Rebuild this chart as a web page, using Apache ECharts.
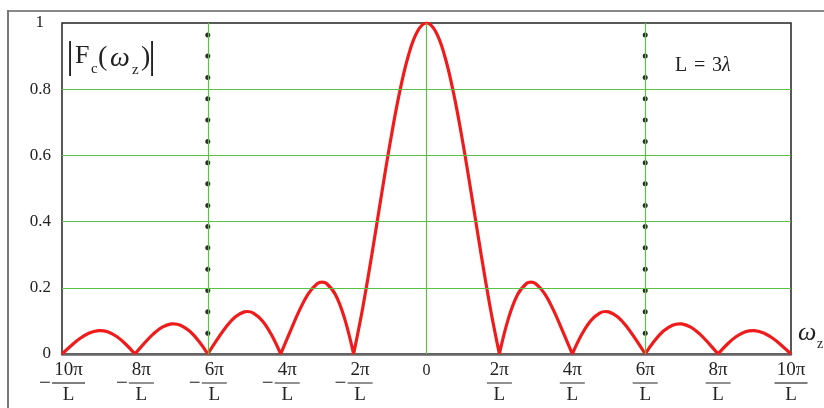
<!DOCTYPE html>
<html>
<head>
<meta charset="utf-8">
<script src="https://cdn.jsdelivr.net/npm/echarts@6/dist/echarts.min.js"></script>
<style>
  html, body { margin: 0; padding: 0; background: #ffffff; }
  #chart { width: 824px; height: 408px; }
</style>
</head>
<body>
<div id="chart"></div>
<script>
// x positions in units of pi/L
const xValues = [
  -10, -9.75, -9.5, -9.25, -9, -8.955, -8.75, -8.5, -8.25,
  -8, -7.75, -7.5, -7.25, -7, -6.942, -6.75, -6.5, -6.25,
  -6, -5.75, -5.5, -5.25, -5, -4.918, -4.75, -4.5, -4.25,
  -4, -3.75, -3.5, -3.25, -3, -2.861, -2.75, -2.5, -2.25,
  -2, -1.75, -1.5, -1.25, -1, -0.75, -0.5, -0.25,
  0, 0.25, 0.5, 0.75, 1, 1.25, 1.5, 1.75,
  2, 2.25, 2.5, 2.75, 2.861, 3, 3.25, 3.5, 3.75,
  4, 4.25, 4.5, 4.75, 4.918, 5, 5.25, 5.5, 5.75,
  6, 6.25, 6.5, 6.75, 6.942, 7, 7.25, 7.5, 7.75,
  8, 8.25, 8.5, 8.75, 8.955, 9, 9.25, 9.5, 9.75, 10
];
// |Fc(wz)|
const magnitude = [
  0, 0.0250, 0.0474, 0.0636, 0.0707, 0.0709, 0.0672, 0.0530, 0.0295,
  0, 0.0314, 0.0600, 0.0811, 0.0909, 0.0913, 0.0871, 0.0693, 0.0390,
  0, 0.0424, 0.0818, 0.1120, 0.1273, 0.1284, 0.1238, 0.1000, 0.0573,
  0, 0.0650, 0.1286, 0.1810, 0.2122, 0.2172, 0.2139, 0.1801, 0.1083,
  0, 0.1392, 0.3001, 0.4705, 0.6366, 0.7842, 0.9003, 0.9745,
  1, 0.9745, 0.9003, 0.7842, 0.6366, 0.4705, 0.3001, 0.1392,
  0, 0.1083, 0.1801, 0.2139, 0.2172, 0.2122, 0.1810, 0.1286, 0.0650,
  0, 0.0573, 0.1000, 0.1238, 0.1284, 0.1273, 0.1120, 0.0818, 0.0424,
  0, 0.0390, 0.0693, 0.0871, 0.0913, 0.0909, 0.0811, 0.0600, 0.0314,
  0, 0.0295, 0.0530, 0.0672, 0.0709, 0.0707, 0.0636, 0.0474, 0.0250, 0
];
// dotted markers on the +-6pi/L lines
const dotX = [-6, 6];
const dotValues = [0.063, 0.128, 0.192, 0.256, 0.321, 0.385, 0.449, 0.514, 0.578, 0.642, 0.707, 0.771, 0.835, 0.900, 0.964];
const xTicks = [-10, -8, -6, -4, -2, 0, 2, 4, 6, 8, 10];
const yTicks = [0, 0.2, 0.4, 0.6, 0.8, 1];
const gridX = [-6, 0, 6];
const gridY = [0.2, 0.4, 0.6, 0.8];

// build curve, breaking at each zero so the cusps stay sharp
const curve = [];
for (let i = 0; i < xValues.length; i++) {
  curve.push([xValues[i], magnitude[i]]);
  if (magnitude[i] === 0 && i > 0 && i < xValues.length - 1) {
    curve.push([xValues[i], '-']);
    curve.push([xValues[i], magnitude[i]]);
  }
}
const dots = [];
dotX.forEach(x => dotValues.forEach(v => dots.push([x, v])));

const SERIF = '"Liberation Serif", "DejaVu Serif", serif';
const chart = echarts.init(document.getElementById('chart'));

function txt(text, x, y, size, opts) {
  opts = opts || {};
  return {
    type: 'text', x: x, y: y, silent: true, z: 100,
    style: {
      text: text,
      font: (opts.italic ? 'italic ' : '') + size + 'px ' + SERIF,
      fill: '#222',
      align: opts.align || 'left',
      verticalAlign: 'middle'
    }
  };
}

chart.setOption({
  animation: false,
  backgroundColor: '#ffffff',
  grid: {
    left: 62, right: 33, top: 23, bottom: 54,
    show: true, borderColor: '#222', borderWidth: 1.5, backgroundColor: 'transparent'
  },
  xAxis: {
    type: 'value', min: -10, max: 10, interval: 2,
    axisLine: { show: true, onZero: false, lineStyle: { color: '#666', width: 2.5 } },
    axisTick: { show: false },
    splitLine: { show: false },
    axisLabel: {
      show: true, margin: 6, showMinLabel: true, showMaxLabel: true, hideOverlap: false,
      color: '#222', fontFamily: SERIF,
      formatter: function (v) {
        if (xTicks.indexOf(v) < 0) return '';
        if (v === 0) return '{z|0}';
        const n = Math.abs(v);
        const bar = n >= 10 ? 'bw' : 'b';
        if (v < 0) {
          return '{sp| }{n|' + n + 'π}\n{m|−}{' + bar + '| }\n{sp| }{d|L}';
        }
        return '{n|' + n + 'π}\n{' + bar + '| }\n{d|L}';
      },
      rich: {
        z: { fontSize: 16, lineHeight: 22, fontFamily: SERIF, color: '#222' },
        n: { fontSize: 19, lineHeight: 20, fontFamily: SERIF, color: '#222' },
        d: { fontSize: 19, lineHeight: 18, fontFamily: SERIF, color: '#222' },
        sp: { width: 13, fontSize: 19, lineHeight: 6 },
        m: { width: 13, align: 'left', fontSize: 21, lineHeight: 6, fontFamily: SERIF, color: '#222' },
        b: { width: 25, height: 1.3, lineHeight: 6, backgroundColor: '#555' },
        bw: { width: 33, height: 1.3, lineHeight: 6, backgroundColor: '#555' }
      }
    }
  },
  yAxis: {
    type: 'value', min: 0, max: 1, interval: 0.2,
    axisLine: { show: false },
    axisTick: { show: false },
    splitLine: { show: false },
    axisLabel: {
      margin: 11, color: '#222', fontSize: 17, fontFamily: SERIF,
      formatter: function (v) {
        if (v === 1) return '{o|1}';
        return String(Math.round(v * 10) / 10);
      },
      rich: { o: { fontSize: 17, fontFamily: SERIF, color: '#222', padding: [0, 7, 0, 0] } }
    }
  },
  series: [
    {
      type: 'line', data: [], z: 1, silent: true,
      markLine: {
        silent: true, symbol: ['none', 'none'], label: { show: false },
        lineStyle: { color: '#5cc246', width: 1.2, type: 'solid' },
        emphasis: { disabled: true },
        data: gridX.map(x => ({ xAxis: x })).concat(gridY.map(y => ({ yAxis: y })))
      }
    },
    {
      type: 'scatter', data: dots, z: 2, silent: true,
      symbol: 'circle', symbolSize: 5,
      itemStyle: { color: '#2a2a2a', opacity: 1 }
    },
    {
      type: 'line', data: curve, z: 3, silent: true,
      smooth: 0.4, connectNulls: false, showSymbol: false, symbol: 'none',
      lineStyle: { color: '#f01c1c', width: 3.2 }
    }
  ],
  graphic: [
    { type: 'line', silent: true, shape: { x1: 8, y1: 11, x2: 824, y2: 11 }, style: { stroke: '#888', lineWidth: 2 } },
    { type: 'line', silent: true, shape: { x1: 8, y1: 10, x2: 8, y2: 408 }, style: { stroke: '#777', lineWidth: 2 } },
    txt('|', 70, 58.5, 38, { align: 'center' }),
    txt('F', 75, 56.5, 26),
    txt('c', 91, 69, 15),
    txt('(', 98, 58, 28),
    txt('ω', 110, 58.5, 28, { italic: true }),
    txt('z', 132, 70, 15),
    txt(')', 141, 58, 28),
    txt('|', 152, 58.5, 38, { align: 'center' }),
    txt('L', 675, 66, 20),
    txt('=', 694, 66, 20),
    txt('3', 712, 66, 20),
    txt('λ', 722, 66, 20, { italic: true }),
    txt('ω', 798, 333, 26, { italic: true }),
    txt('z', 817, 344, 14)
  ]
});
</script>
</body>
</html>
